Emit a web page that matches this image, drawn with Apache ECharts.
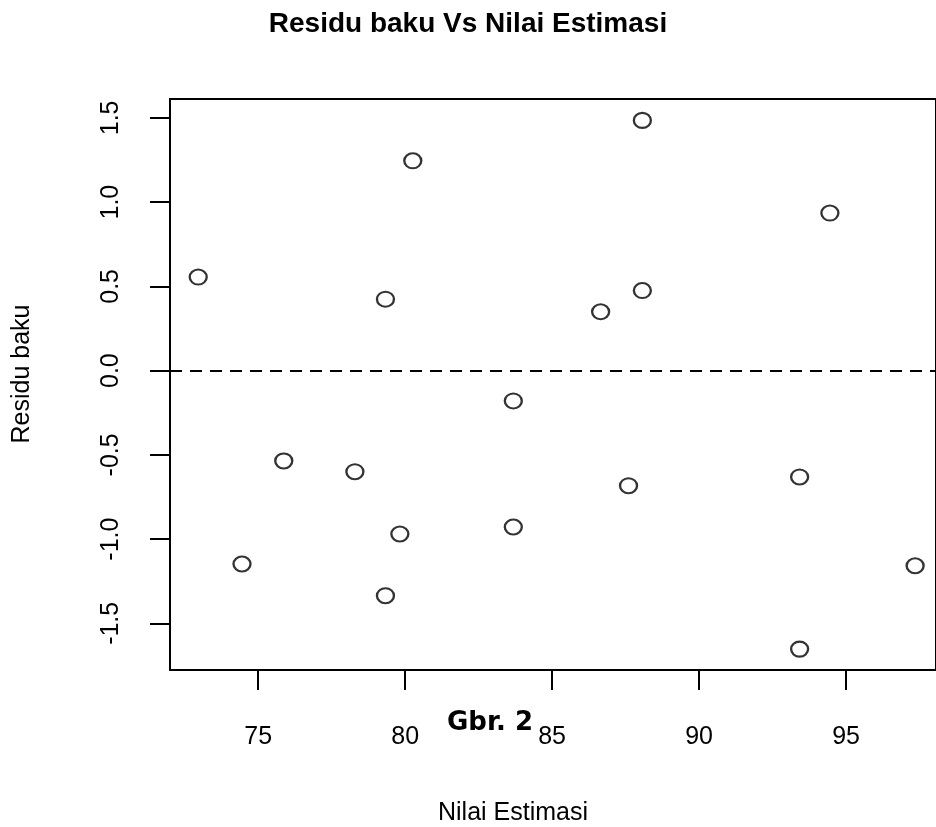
<!DOCTYPE html>
<html>
<head>
<meta charset="utf-8">
<script src="https://cdn.jsdelivr.net/npm/echarts@6/dist/echarts.min.js"></script>
<style>html,body{margin:0;padding:0;background:#fff;}#c{width:936px;height:827px;}</style>
</head>
<body>
<div id="c"></div>
<script>
// Data
const nilaiEstimasi = [72.96, 79.33, 75.87, 78.29, 74.45, 79.33, 79.82, 80.26, 83.68, 83.68, 86.65, 88.07, 88.07, 94.45, 87.60, 93.42, 93.42, 97.35];
const residuBaku   = [0.555, 0.424, -0.536, -0.600, -1.148, -1.336, -0.970, 1.245, -0.180, -0.928, 0.349, 1.485, 0.475, 0.935, -0.683, -0.631, -1.653, -1.158];
const xTicks = [75, 80, 85, 90, 95];
const yTicks = [-1.5, -1.0, -0.5, 0.0, 0.5, 1.0, 1.5];
const titleText = 'Residu baku Vs Nilai Estimasi';
const xName = 'Nilai Estimasi';
const yName = 'Residu baku';
const caption = 'Gbr. 2';

const points = nilaiEstimasi.map((x, i) => [x, residuBaku[i]]);
const chart = echarts.init(document.getElementById('c'), null, {renderer: 'canvas'});
const font = 'Liberation Sans, Arial, sans-serif';
chart.setOption({
  animation: false,
  backgroundColor: '#fff',
  title: {
    text: titleText, left: 'center', top: 10, padding: 0,
    textStyle: {fontFamily: font, fontWeight: 'bold', fontSize: 28, color: '#000'}
  },
  grid: {left: 170, top: 99, width: 770, height: 571, show: true, borderColor: '#000', borderWidth: 2, backgroundColor: 'transparent'},
  xAxis: {
    type: 'value', min: 72, max: 98.06,
    axisLine: {show: true, onZero: false, lineStyle: {color: '#000', width: 2}},
    axisTick: {show: true, length: 20, inside: false, customValues: xTicks, lineStyle: {color: '#000', width: 2}},
    axisLabel: {customValues: xTicks, margin: 55, fontSize: 25, fontFamily: font, color: '#000', formatter: v => String(v)},
    splitLine: {show: false}
  },
  yAxis: {
    type: 'value', min: -1.777, max: 1.612,
    axisLine: {show: true, onZero: false, lineStyle: {color: '#000', width: 2}},
    axisTick: {show: true, length: 20, customValues: yTicks, lineStyle: {color: '#000', width: 2}},
    axisLabel: {customValues: yTicks, rotate: 90, margin: 46, fontSize: 25, fontFamily: font, color: '#000', formatter: v => v.toFixed(1)},
    splitLine: {show: false}
  },
  series: [{
    type: 'scatter',
    data: points,
    symbol: 'circle',
    symbolSize: [17, 15],
    itemStyle: {color: '#fff', borderColor: '#000', borderWidth: 2.2},
    markLine: {
      silent: true, symbol: 'none', label: {show: false},
      lineStyle: {color: '#000', width: 2, type: [12, 8]},
      data: [{yAxis: 0}]
    }
  }],
  graphic: [
    {type: 'text', x: 513, y: 813, style: {text: xName, fontSize: 25, fontFamily: font, fill: '#000', textAlign: 'center', textVerticalAlign: 'middle'}},
    {type: 'text', x: 22, y: 374, rotation: Math.PI / 2, style: {text: yName, fontSize: 25, fontFamily: font, fill: '#000', textAlign: 'center', textVerticalAlign: 'middle'}},
    {type: 'text', x: 447, y: 723, style: {text: caption, fontSize: 26, fontWeight: 'bold', fontFamily: 'DejaVu Sans, Verdana, sans-serif', fill: '#000', textAlign: 'left', textVerticalAlign: 'middle'}}
  ]
});
</script>
</body>
</html>
